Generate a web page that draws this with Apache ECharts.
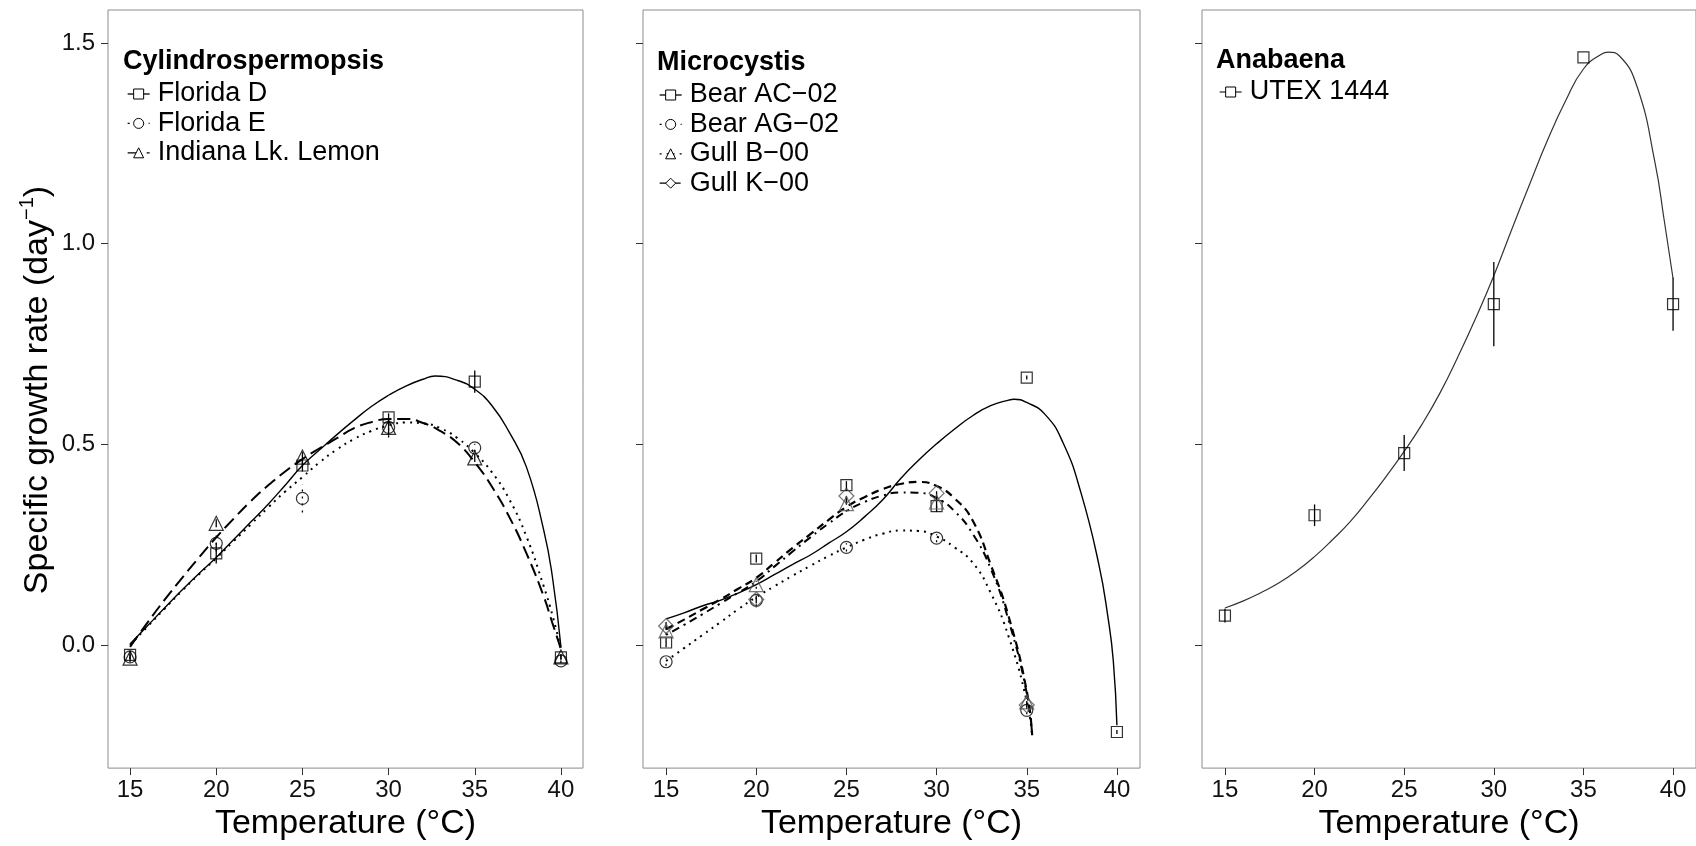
<!DOCTYPE html>
<html><head><meta charset="utf-8">
<script src="https://cdn.jsdelivr.net/npm/echarts@6/dist/echarts.min.js"></script>
<style>html,body{margin:0;padding:0;background:#fff}#chart{width:1696px;height:846px}</style>
</head><body><div id="chart"></div>
<script>
// ---------- tick labels ----------
const xTicks = [15, 20, 25, 30, 35, 40];
const yTicks = [0, 0.5, 1.0, 1.5];

// ---------- panel 1: Cylindrospermopsis ----------
const cylTemps = [15, 20, 25, 30, 35, 40];
const floridaD = [-0.025, 0.228, 0.447, 0.567, 0.656, -0.031];
const floridaDErr = [0.010, 0.025, 0.015, 0.010, 0.028, 0.008];
const floridaE = [-0.030, 0.253, 0.365, 0.542, 0.491, -0.040];
const floridaEErr = [0.005, 0.020, 0.035, 0.025, 0.010, 0.005];
const indiana = [-0.033, 0.303, 0.468, 0.542, 0.466, -0.030];
const indianaErr = [0.010, 0.010, 0.020, 0.020, 0.010, 0.005];

const floridaDFitT = [15,16,17,18,19,20,21,22,23,24,25,26,27,28,29,30,31,32,32.7,34,35,36,37,38,39,39.5,40];
const floridaDFit  = [0.002,0.047,0.092,0.136,0.178,0.218,0.262,0.306,0.350,0.398,0.447,0.486,0.524,0.560,0.594,0.622,0.645,0.662,0.670,0.659,0.637,0.596,0.530,0.443,0.286,0.171,-0.005];
const floridaEFitT = [15,16,17,18,19,20,21,22,23,24,25,26,27,28,29,30,31,32,33,34,35,36,37,38,39,39.5,40];
const floridaEFit  = [0.000,0.045,0.090,0.134,0.176,0.216,0.258,0.300,0.342,0.382,0.418,0.455,0.487,0.513,0.533,0.547,0.554,0.552,0.540,0.515,0.478,0.430,0.363,0.270,0.146,0.075,-0.010];
const indianaFitT  = [15,16,17,18,19,20,21,22,23,24,25,26,27,28,29,30,31,32,33,34,35,36,37,38,39,39.5,40];
const indianaFit   = [-0.005,0.055,0.112,0.166,0.218,0.268,0.314,0.358,0.397,0.432,0.463,0.490,0.515,0.540,0.555,0.563,0.563,0.553,0.533,0.503,0.455,0.394,0.319,0.228,0.121,0.055,-0.010];

// ---------- panel 2: Microcystis ----------
const micTemps = [15, 20, 25, 30, 35];
const bearACTemps = [15, 20, 25, 30, 35, 40];
const bearAC = [0.006, 0.215, 0.398, 0.346, 0.666, -0.217];
const bearACErr = [0.012, 0.010, 0.010, 0.015, 0.005, 0.005];
const bearAG = [-0.042, 0.111, 0.243, 0.266, -0.163];
const bearAGErr = [0.010, 0.015, 0.010, 0.010, 0.010];
const gullB = [0.035, 0.150, 0.352, 0.356, -0.142];
const gullBErr = [0.010, 0.010, 0.020, 0.015, 0.010];
const gullK = [0.047, 0.113, 0.371, 0.378, -0.150];
const gullKErr = [0.010, 0.010, 0.020, 0.015, 0.010];

const bearACFitT = [15,16,17,18,19,20,21,22,23,24,25,26,27,28,29,30,31,32,33,34,34.3,35,36,37,38,39,39.5,39.8,40];
const bearACFit  = [0.065,0.080,0.097,0.111,0.129,0.150,0.175,0.200,0.224,0.253,0.282,0.319,0.361,0.414,0.460,0.501,0.538,0.571,0.596,0.610,0.612,0.604,0.575,0.505,0.380,0.200,0.070,-0.040,-0.200];
const bearAGFitT = [15,16,17,18,19,20,21,22,23,24,25,26,27,28,29,30,31,32,33,34,35,35.3];
const bearAGFit  = [-0.040,-0.008,0.024,0.056,0.089,0.119,0.146,0.172,0.197,0.221,0.243,0.262,0.277,0.285,0.284,0.270,0.243,0.205,0.130,0.020,-0.140,-0.225];
const gullBFitT  = [15,16,17,18,19,20,21,22,23,24,25,26,27,28,29,30,31,32,33,34,35,35.3];
const gullBFit   = [0.025,0.050,0.076,0.103,0.130,0.158,0.195,0.232,0.268,0.302,0.333,0.356,0.372,0.380,0.379,0.366,0.333,0.277,0.190,0.060,-0.120,-0.225];
const gullKFitT  = [15,16,17,18,19,20,21,22,23,24,25,26,27,28,29,30,31,32,33,34,35,35.3];
const gullKFit   = [0.039,0.063,0.088,0.113,0.140,0.167,0.204,0.241,0.276,0.311,0.344,0.368,0.388,0.401,0.406,0.396,0.365,0.310,0.200,0.070,-0.115,-0.225];

// ---------- panel 3: Anabaena ----------
const anaTemps = [15, 20, 25, 30, 35, 40];
const utex = [0.073, 0.323, 0.478, 0.849, 1.464, 0.849];
const utexErr = [0.017, 0.027, 0.045, 0.105, 0.0, 0.066];
const utexFitT = [15,16,17,18,19,20,21,22,23,24,25,26,27,28,29,30,31,32,33,34,35,36,36.4,37,38,39,39.5,40];
const utexFit  = [0.092,0.109,0.130,0.154,0.184,0.220,0.262,0.308,0.362,0.420,0.482,0.550,0.628,0.718,0.815,0.920,1.035,1.148,1.258,1.355,1.435,1.472,1.477,1.468,1.390,1.200,1.060,0.913];

// ---------- build ----------
const FONT = 'Liberation Sans';
const grids = [
  {left: 108, top: 10, width: 475, height: 763},
  {left: 643, top: 10, width: 497, height: 763},
  {left: 1202, top: 10, width: 497, height: 763}
];
const X_MIN = 13.72, X_MAX = 41.28, Y_MIN = -0.307, Y_MAX = 1.582;

const series = [];
function addStrain(g, name, obsT, obsV, obsE, fitT, fitV, symbol, symSize, lineStyle, markColor) {
  const mc = markColor || '#000';
  series.push({
    type: 'line', name, xAxisIndex: g, yAxisIndex: g,
    data: fitT.map((t, i) => [t, fitV[i]]),
    showSymbol: false, symbol, symbolSize: symSize, smooth: 0.5, silent: true,
    lineStyle: Object.assign({color: '#000'}, lineStyle),
    itemStyle: {color: '#fff', borderColor: '#000', borderWidth: 1},
    z: 2, animation: false
  });
  series.push({
    type: 'custom', name: name + ' err', xAxisIndex: g, yAxisIndex: g, silent: true,
    data: obsT.map((t, i) => [t, obsV[i] - obsE[i], obsV[i] + obsE[i]]),
    renderItem: (params, api) => {
      const p1 = api.coord([api.value(0), api.value(1)]);
      const p2 = api.coord([api.value(0), api.value(2)]);
      return {type: 'line', shape: {x1: p1[0], y1: p1[1], x2: p2[0], y2: p2[1]},
        style: {stroke: '#000', lineWidth: 1.3, lineDash: Array.isArray(lineStyle.type) ? lineStyle.type : null}};
    },
    z: 3, animation: false
  });
  series.push({
    type: 'scatter', name: name + ' obs', xAxisIndex: g, yAxisIndex: g, silent: true,
    data: obsT.map((t, i) => [t, obsV[i]]),
    symbol, symbolSize: symSize,
    itemStyle: {color: 'rgba(0,0,0,0)', borderColor: mc, borderWidth: 1.2},
    z: 4, animation: false
  });
}
const SOLID = {type: 'solid', width: 1.4};
const DOTTED = {type: [2, 5], width: 2};
const LONGDASH = {type: [13, 6], width: 2};
const DASHED = {type: [8, 5], width: 2.2};
const DOTDASH = {type: [2, 5, 8, 5], width: 2};

addStrain(0, 'Florida D', cylTemps, floridaD, floridaDErr, floridaDFitT, floridaDFit, 'rect', 11, SOLID);
addStrain(0, 'Florida E', cylTemps, floridaE, floridaEErr, floridaEFitT, floridaEFit, 'circle', 12, DOTTED);
addStrain(0, 'Indiana Lk. Lemon', cylTemps, indiana, indianaErr, indianaFitT, indianaFit, 'triangle', 14, LONGDASH);

addStrain(1, 'Bear AC\u221202', bearACTemps, bearAC, bearACErr, bearACFitT, bearACFit, 'rect', 11, SOLID);
addStrain(1, 'Bear AG\u221202', micTemps, bearAG, bearAGErr, bearAGFitT, bearAGFit, 'circle', 12, DOTTED);
addStrain(1, 'Gull B\u221200', micTemps, gullB, gullBErr, gullBFitT, gullBFit, 'triangle', 14, DOTDASH, '#555');
addStrain(1, 'Gull K\u221200', micTemps, gullK, gullKErr, gullKFitT, gullKFit, 'diamond', 15, DASHED, '#555');

addStrain(2, 'UTEX 1444', anaTemps, utex, utexErr, utexFitT, utexFit, 'rect', 11, {type: 'solid', width: 1.2, color: '#333'});

const xAxes = grids.map((g, i) => ({
  type: 'value', gridIndex: i, min: X_MIN, max: X_MAX,
  axisLine: {show: false, onZero: false}, splitLine: {show: false},
  axisTick: {show: true, length: 7, customValues: xTicks, lineStyle: {color: '#333', width: 1}},
  axisLabel: {show: true, customValues: xTicks, margin: 10, fontSize: 24, color: '#111', fontFamily: FONT},
  name: 'Temperature (\u00B0C)', nameLocation: 'middle', nameGap: 33,
  nameTextStyle: {fontSize: 34, color: '#000', fontFamily: FONT}
}));
const yAxes = grids.map((g, i) => ({
  type: 'value', gridIndex: i, min: Y_MIN, max: Y_MAX,
  axisLine: {show: false, onZero: false}, splitLine: {show: false},
  axisTick: {show: true, length: 7, customValues: yTicks, lineStyle: {color: '#333', width: 1}},
  axisLabel: {show: i === 0, customValues: yTicks, margin: 13, fontSize: 24, color: '#111', fontFamily: FONT,
    formatter: v => v.toFixed(1)}
}));

const legendBase = {
  orient: 'vertical', itemWidth: 22, itemHeight: 12.5, itemGap: 0, padding: 0,
  selectedMode: false,
  textStyle: {fontSize: 27, lineHeight: 29.4, color: '#000', fontFamily: FONT, padding: [0, 0, 0, 3]},
  itemStyle: {borderWidth: 1},
  lineStyle: {width: 1.3}
};
const legends = [
  Object.assign({}, legendBase, {left: 127, top: 79.3, data: ['Florida D', 'Florida E', 'Indiana Lk. Lemon']}),
  Object.assign({}, legendBase, {left: 659, top: 80.3, data: ['Bear AC\u221202', 'Bear AG\u221202', 'Gull B\u221200', 'Gull K\u221200']}),
  Object.assign({}, legendBase, {left: 1219, top: 77.3, data: ['UTEX 1444']})
];
const titleStyle = {fontSize: 27, fontWeight: 'bold', color: '#000', fontFamily: FONT};
const titles = [
  {text: 'Cylindrospermopsis', left: 123, top: 48, padding: 0, textStyle: titleStyle},
  {text: 'Microcystis', left: 657, top: 49, padding: 0, textStyle: titleStyle},
  {text: 'Anabaena', left: 1216, top: 47, padding: 0, textStyle: titleStyle}
];

const chart = echarts.init(document.getElementById('chart'), null, {renderer: 'canvas'});
chart.setOption({
  animation: false,
  backgroundColor: '#fff',
  textStyle: {fontFamily: FONT},
  title: titles,
  legend: legends,
  grid: grids.map(g => Object.assign({show: true, borderColor: '#8c8c8c', borderWidth: 1, backgroundColor: 'transparent'}, g)),
  xAxis: xAxes,
  yAxis: yAxes,
  series,
  graphic: [{
    type: 'text', x: 36, y: 390, rotation: Math.PI / 2,
    style: {
      text: '{m|Specific growth rate (day}{s|\u22121}{m|)}',
      textAlign: 'center', textVerticalAlign: 'middle',
      rich: {
        m: {fontSize: 34, fontFamily: FONT, fill: '#000', color: '#000', lineHeight: 38, verticalAlign: 'bottom'},
        s: {fontSize: 20, fontFamily: FONT, fill: '#000', color: '#000', lineHeight: 38, verticalAlign: 'top'}
      }
    }
  }]
});
</script></body></html>
